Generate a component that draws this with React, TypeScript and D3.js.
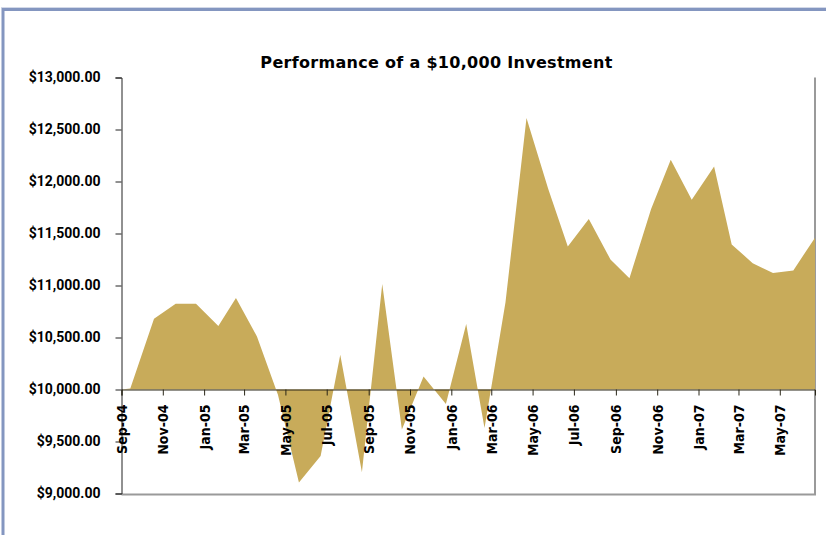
import React, { useEffect, useRef } from 'react';
import * as d3 from 'd3';

// month-end-ish observation dates and portfolio value
const dates = [
  '2004-09-01', '2004-09-14', '2004-10-19', '2004-11-20', '2004-12-20',
  '2005-01-22', '2005-02-17', '2005-03-20', '2005-04-20', '2005-05-21',
  '2005-06-22', '2005-07-21', '2005-08-22', '2005-09-21', '2005-10-20',
  '2005-11-21', '2005-12-24', '2006-01-23', '2006-02-19', '2006-03-22',
  '2006-04-22', '2006-05-24', '2006-06-22', '2006-07-23', '2006-08-24',
  '2006-09-21', '2006-10-23', '2006-11-21', '2006-12-22', '2007-01-24',
  '2007-02-19', '2007-03-22', '2007-04-21', '2007-05-21', '2007-06-22',
];
const values = [
  10000, 10010, 10680, 10825, 10825,
  10610, 10880, 10510, 9950, 9105,
  9360, 10335, 9205, 11015, 9615,
  10125, 9860, 10630, 9630, 10840,
  12610, 11930, 11375, 11640, 11250,
  11070, 11735, 12210, 11825, 12145,
  11395, 11215, 11120, 11145, 11460,
];
const yTicks = [9000, 9500, 10000, 10500, 11000, 11500, 12000, 12500, 13000];
const title = 'Performance of a $10,000 Investment';
const startValue = 10000;

const W = 826;
const H = 535;

export default function App() {
  const ref = useRef<SVGSVGElement>(null);

  useEffect(() => {
    const svg = d3.select(ref.current);
    svg.selectAll('*').remove();

    const parse = d3.timeParse('%Y-%m-%d');
    const data = dates.map((d, i) => ({ date: parse(d) as Date, value: values[i] }));

    const left = 121.5;
    const right = 815;
    const top = 77.5;
    const bottom = 493.5;

    const x = d3
      .scaleTime()
      .domain(d3.extent(data, (d) => d.date) as [Date, Date])
      .range([left, right]);

    const y = d3.scaleLinear().domain([9000, 13000]).range([bottom, top]);

    // outer frame
    svg.append('rect')
      .attr('x', 3).attr('y', 9.5)
      .attr('width', W + 10).attr('height', H + 10)
      .attr('fill', 'none')
      .attr('stroke', '#8496c0')
      .attr('stroke-width', 3);
    svg.append('line')
      .attr('x1', 1).attr('x2', W).attr('y1', 7.5).attr('y2', 7.5)
      .attr('stroke', '#d3d9e8');

    // plot border shadow (right + bottom)
    svg.append('path')
      .attr('d', `M${right},${top}V${bottom + 1}H${left}`)
      .attr('fill', 'none')
      .attr('stroke', '#9a9a9a')
      .attr('stroke-width', 2);

    svg.append('text')
      .attr('x', 436.5)
      .attr('y', 68)
      .attr('text-anchor', 'middle')
      .style('font-family', '"DejaVu Sans", sans-serif')
      .style('font-weight', 'bold')
      .style('font-size', '16px')
      .style('letter-spacing', '0.3px')
      .attr('fill', '#000')
      .text(title);

    const area = d3
      .area<{ date: Date; value: number }>()
      .x((d) => x(d.date))
      .y0(y(startValue))
      .y1((d) => y(d.value));

    svg.append('path')
      .datum(data)
      .attr('fill', '#c8ab5a')
      .attr('d', area);

    // y axis
    const yAxis = d3
      .axisLeft(y)
      .tickValues(yTicks)
      .tickSize(6)
      .tickPadding(15)
      .tickFormat((d) => d3.format('$,.2f')(d as number));

    const gy = svg.append('g')
      .attr('transform', `translate(${left},0)`)
      .call(yAxis);
    gy.select('.domain').attr('stroke', '#222');
    gy.selectAll('.tick line').attr('stroke', '#222');
    gy.selectAll('text')
      .style('font-family', 'Roboto, sans-serif')
      .style('font-weight', 'bold')
      .style('font-size', '14px')
      .attr('fill', '#000');

    // x axis crosses at $10,000
    const xAxis = d3
      .axisBottom(x)
      .ticks(d3.timeMonth.every(2))
      .tickFormat((d) => d3.timeFormat('%b-%y')(d as Date))
      .tickSizeOuter(0)
      .tickSize(6);

    const gx = svg.append('g')
      .attr('transform', `translate(0,${y(startValue)})`)
      .call(xAxis);
    gx.select('.domain').attr('stroke', '#2a2618');
    gx.selectAll('.tick line').attr('stroke', '#2a2618');
    gx.selectAll('text')
      .attr('transform', 'rotate(-90)')
      .attr('x', -15)
      .attr('y', 0)
      .attr('dy', '0.35em')
      .style('text-anchor', 'end')
      .style('font-family', '"Liberation Sans Narrow", "DejaVu Sans Condensed", sans-serif')
      .style('font-weight', 'bold')
      .style('font-size', '14px')
      .attr('fill', '#000');
  }, []);

  return (
    <svg
      ref={ref}
      width={W}
      height={H}
      style={{ position: 'absolute', left: 0, top: 0, background: '#fff' }}
    />
  );
}
